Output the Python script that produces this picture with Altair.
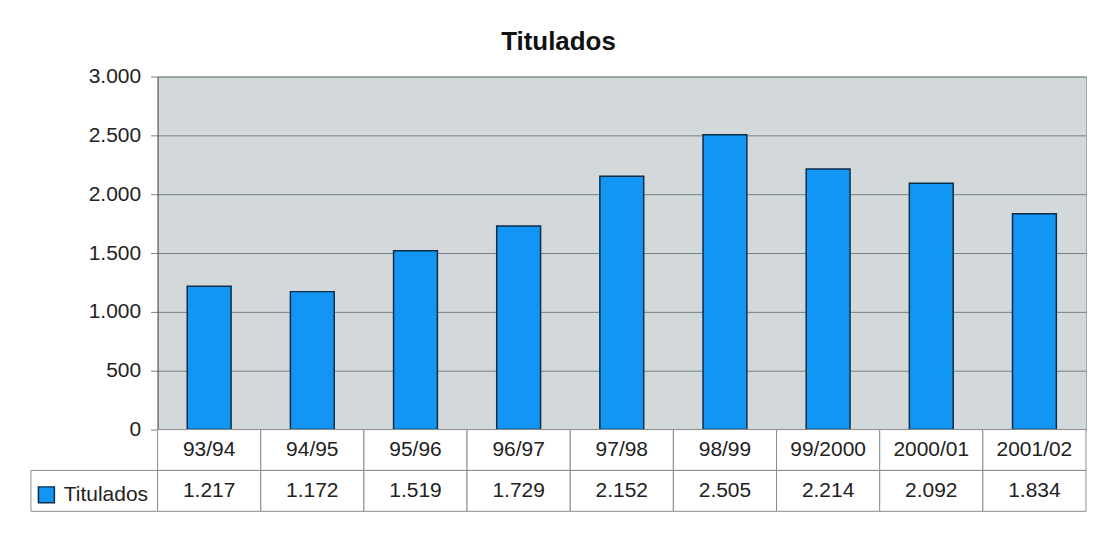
import altair as alt
import pandas as pd

categories = ["93/94", "94/95", "95/96", "96/97", "97/98", "98/99", "99/2000", "2000/01", "2001/02"]
values = [1217, 1172, 1519, 1729, 2152, 2505, 2214, 2092, 1834]
series_name = "Titulados"
y_ticks = [0, 500, 1000, 1500, 2000, 2500, 3000]

FONT = "Liberation Sans"
BAR_FILL = "#1396f3"
BAR_STROKE = "#0b2d48"
PLOT_BG = "#d3d9da"
GRID = "#768080"
CELL_LINE = "#8c8c8c"
TEXT = "#222222"


def es_fmt(v):
    return f"{v:,}".replace(",", ".")


bars_df = pd.DataFrame({"cat": categories, "value": values, "serie": series_name})

rows_h = pd.DataFrame({"cat": categories, "row": "h", "label": categories})
rows_v = pd.DataFrame({"cat": categories, "row": "v", "label": [es_fmt(v) for v in values]})
table_df = pd.concat([rows_h, rows_v], ignore_index=True)

legend_df = pd.DataFrame({"c": ["k"], "row": ["v"]})
blank_df = pd.DataFrame({"c": ["k"]})

x_bar = alt.X("cat:N", sort=categories, axis=None,
              scale=alt.Scale(paddingInner=0.575, paddingOuter=0.2875))
x_tab = alt.X("cat:N", sort=categories, axis=None,
              scale=alt.Scale(paddingInner=0, paddingOuter=0))
y_tab = alt.Y("row:N", sort=["h", "v"], axis=None,
              scale=alt.Scale(domain=["h", "v"], paddingInner=0, paddingOuter=0))

bar_chart = alt.Chart(bars_df).mark_bar(
    stroke=BAR_STROKE, strokeWidth=1.5, opacity=1
).encode(
    x=x_bar,
    y=alt.Y("value:Q", title=None,
            scale=alt.Scale(domain=[0, 3000], nice=False),
            axis=alt.Axis(values=y_ticks,
                          labelExpr="replace(format(datum.value, ','), ',', '.')",
                          labelFont=FONT, labelFontSize=21, labelColor=TEXT,
                          labelPadding=10, tickSize=7, tickColor=GRID,
                          domainColor="#505a5a", gridColor=GRID, grid=True,
                          gridOpacity=1)),
    color=alt.Color("serie:N",
                    scale=alt.Scale(domain=[series_name], range=[BAR_FILL]),
                    legend=alt.Legend(orient="none", legendX=5, legendY=409,
                                      title=None, symbolType="square",
                                      symbolSize=256, symbolStrokeColor=BAR_STROKE,
                                      symbolStrokeWidth=1.5, symbolOpacity=1,
                                      labelFont=FONT, labelFontSize=21,
                                      labelColor=TEXT, labelOffset=7, padding=0)),
).properties(width=931, height=354,
             view=alt.ViewBackground(fill=PLOT_BG, stroke="#a0a8a8"))

blank = alt.Chart(blank_df).mark_point(opacity=0).properties(
    width=127, height=354, view=alt.ViewBackground(stroke="transparent"))

legend_cell = alt.Chart(legend_df).mark_rect(
    fill="white", stroke=CELL_LINE, strokeWidth=1
).encode(
    x=alt.X("c:N", axis=None, scale=alt.Scale(paddingInner=0, paddingOuter=0)),
    y=y_tab,
).properties(width=127, height=82, view=alt.ViewBackground(stroke="transparent"))

table_cells = alt.Chart(table_df).mark_rect(
    fill="white", stroke=CELL_LINE, strokeWidth=1
).encode(x=x_tab, y=y_tab)

table_text = alt.Chart(table_df).mark_text(
    font=FONT, fontSize=21, color=TEXT, baseline="middle", align="center"
).encode(x=x_tab, y=y_tab, text="label:N")

table = (table_cells + table_text).properties(
    width=931, height=82, view=alt.ViewBackground(stroke="transparent"))

chart = alt.concat(
    blank, bar_chart, legend_cell, table,
    columns=2, spacing=0, bounds="flush"
).properties(
    title=alt.TitleParams("Titulados", font=FONT, fontSize=26, fontWeight="bold",
                          color="#111111", anchor="middle", offset=10),
    padding={"left": 22, "top": 20, "right": 0, "bottom": 4},
    background="white",
).configure(font=FONT)

chart.save("out.html", embed_options={"renderer": "svg", "actions": False})
